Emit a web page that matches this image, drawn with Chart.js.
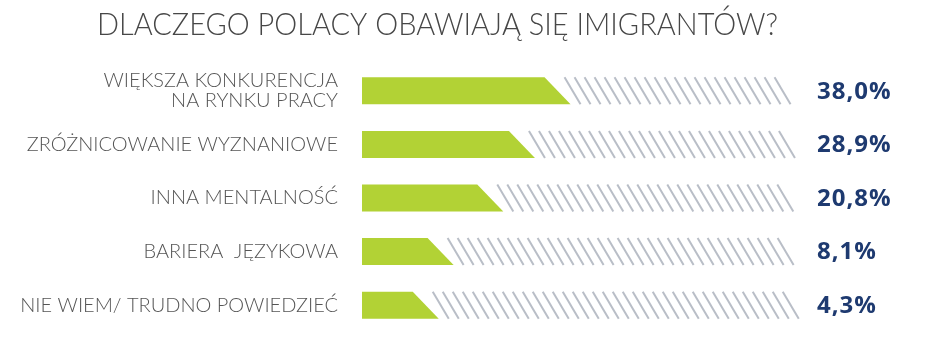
<!DOCTYPE html>
<html>
<head>
<meta charset="utf-8">
<script src="https://cdn.jsdelivr.net/npm/chart.js@4"></script>
<style>
  html, body { margin: 0; padding: 0; background: #ffffff; }
  #wrap { width: 940px; height: 354px; }
</style>
</head>
<body>
<div id="wrap"><canvas id="c" width="940" height="354"></canvas></div>
<script>
// ---- data ----
const titleText = 'DLACZEGO POLACY OBAWIAJĄ SIĘ IMIGRANTÓW?';
const categories = [
  ['WIĘKSZA KONKURENCJA', 'NA RYNKU PRACY'],
  'ZRÓŻNICOWANIE WYZNANIOWE',
  'INNA MENTALNOŚĆ',
  'BARIERA  JĘZYKOWA',
  'NIE WIEM/ TRUDNO POWIEDZIEĆ'
];
const values = [38.0, 28.9, 20.8, 8.1, 4.3];
const axisMin = -12;   // infographic baseline (bars drawn from here)
const axisMax = 100;   // end of hatched track

// ---- styles ----
const GREEN = '#b2d235';
const HATCH = '#b9bec7';
const NAVY = '#1e3a70';
const GREY = '#555555';

const fmt = v => v.toFixed(1).replace('.', ',') + '%';

const shapesPlugin = {
  id: 'shapes',
  beforeDatasetDraw(chart, args) {
    return false; // custom drawing below
  },
  afterDatasetsDraw(chart) {
    const ctx = chart.ctx;
    const green = chart.getDatasetMeta(0).data;
    const track = chart.getDatasetMeta(1).data;
    const slant = 13;
    green.forEach((el, i) => {
      const top = el.y - el.height / 2;
      const bot = el.y + el.height / 2;
      const left = Math.min(el.base, el.x);
      const end = Math.max(el.base, el.x);
      ctx.save();
      ctx.fillStyle = GREEN;
      ctx.beginPath();
      ctx.moveTo(left, top);
      ctx.lineTo(end - slant, top);
      ctx.lineTo(end + slant, bot);
      ctx.lineTo(left, bot);
      ctx.closePath();
      ctx.fill();
      ctx.restore();

      // hatched remainder
      const t = track[i];
      const tEnd = Math.max(t.x, t.base);
      const dx = 16, step = 10;
      ctx.save();
      ctx.strokeStyle = HATCH;
      ctx.lineWidth = 2;
      let x0 = end + 7;
      while (x0 + dx <= tEnd) {
        ctx.beginPath();
        ctx.moveTo(x0, top);
        ctx.lineTo(x0 + dx, bot);
        ctx.stroke();
        x0 += step;
      }
      ctx.restore();

      // value label
      ctx.save();
      ctx.fillStyle = NAVY;
      ctx.font = 'bold 24px "Open Sans", "DejaVu Sans", sans-serif';
      ctx.textAlign = 'left';
      ctx.textBaseline = 'middle';
      if ('letterSpacing' in ctx) ctx.letterSpacing = '1px';
      ctx.fillText(fmt(values[i]), chart.chartArea.right + 17, el.y + 1);
      ctx.restore();
    });
  },
  afterDraw(chart) {
    const ctx = chart.ctx;
    ctx.save();
    ctx.fillStyle = '#474747';
    ctx.font = '300 31px Lato, "Noto Sans", sans-serif';
    ctx.textAlign = 'left';
    ctx.textBaseline = 'middle';
    const w = ctx.measureText(titleText).width;
    const target = 681; // reference title width
    ctx.translate(97, 25);
    ctx.scale(target / w, 1);
    ctx.fillText(titleText, 0, 0);
    ctx.restore();
  }
};

new Chart(document.getElementById('c'), {
  type: 'bar',
  data: {
    labels: categories,
    datasets: [
      {
        label: 'Odsetek',
        data: values.map(v => [axisMin, v]),
        backgroundColor: GREEN,
        barThickness: 27,
        grouped: false
      },
      {
        label: 'Reszta',
        data: values.map(v => [v, axisMax]),
        backgroundColor: HATCH,
        barThickness: 27,
        grouped: false
      }
    ]
  },
  options: {
    indexAxis: 'y',
    responsive: false,
    animation: false,
    layout: { padding: { top: 64, bottom: 22, left: 0, right: 140 } },
    plugins: {
      legend: { display: false },
      title: { display: false },
      tooltip: { enabled: false }
    },
    scales: {
      x: {
        display: false,
        min: axisMin,
        max: axisMax
      },
      y: {
        afterFit(scale) {
          scale.width = 362;
          scale.paddingTop = 0;
          scale.paddingBottom = 0;
        },
        grid: { display: false, drawTicks: false },
        border: { display: false },
        ticks: {
          color: GREY,
          padding: 24,
          font: { family: 'Lato, "Noto Sans", sans-serif', size: 20, weight: '300', lineHeight: 1.0 }
        }
      }
    }
  },
  plugins: [shapesPlugin]
});
</script>
</body>
</html>
